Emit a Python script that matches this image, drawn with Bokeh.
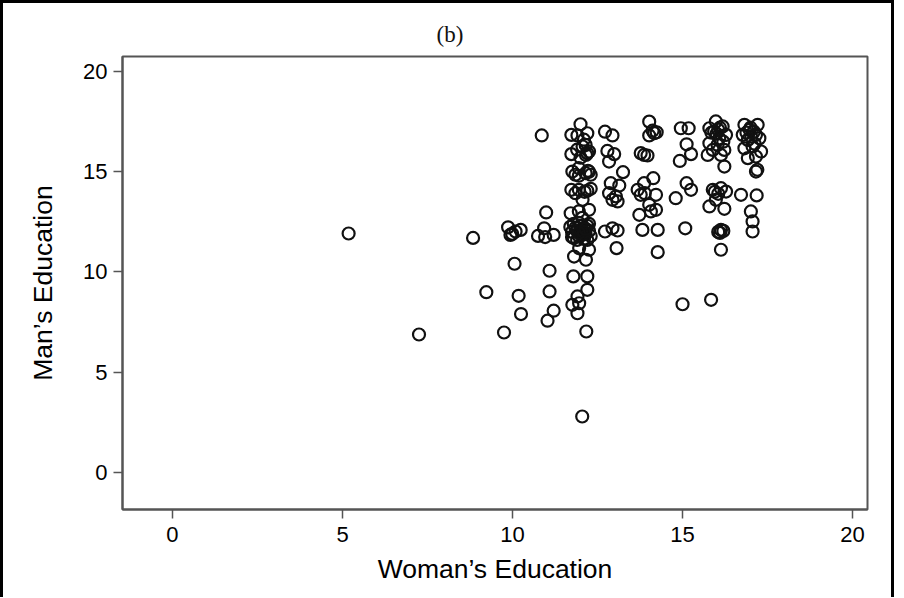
from bokeh.plotting import figure
from bokeh.models import Range1d, FixedTicker
from bokeh.embed import file_html
from bokeh.resources import INLINE

# Woman's education (x) and man's education (y)
woman_edu = [
    # isolated / low-education wives
    5.18, 7.25, 8.84, 9.23, 9.75, 10.06, 10.18, 10.25, 9.87, 9.99, 10.24, 10.09, 9.94,
    10.86, 10.99, 10.93, 10.75, 10.96, 11.21, 11.09, 11.09, 11.21, 11.03,
    # twelve years
    12.0, 11.73, 11.91, 12.2, 12.15, 12.06, 12.25, 12.2, 11.73, 12.16, 12.0,
    11.76, 11.95, 12.15, 11.85, 11.95, 12.25, 12.3,
    11.73, 11.95, 12.2, 11.85, 12.06, 12.3,
    11.71, 11.95, 12.25, 12.05,
    11.75, 11.85, 11.95, 12.05, 12.15, 12.25, 11.8, 12.0, 12.2, 11.9, 12.1, 12.3, 11.7,
    12.0, 11.9, 12.1, 12.05, 11.8, 12.2, 11.95, 12.25, 11.75, 12.1, 11.95, 12.15,
    11.81, 12.16, 12.25, 11.96, 11.79, 12.2, 12.2, 11.91, 11.76, 11.96, 11.91, 12.17, 12.05,
    12.1, 11.9, 12.22, 12.12,
    # thirteen years
    12.72, 12.94, 12.79, 12.99, 12.84, 13.25, 12.89, 13.14, 12.84, 13.04, 12.94, 13.09,
    12.72, 12.94, 13.09, 13.06,
    # fourteen years
    14.02, 14.24, 14.02, 14.17, 13.77, 13.87, 13.97, 14.14, 13.87, 13.68, 13.77, 13.89,
    14.22, 14.02, 14.22, 14.07, 13.73, 13.82, 14.27, 14.27, 14.12,
    # fifteen years
    14.95, 15.18, 15.12, 15.25, 14.92, 15.12, 15.25, 14.8, 15.08, 15.0,
    # sixteen years
    15.98, 15.79, 16.18, 15.93, 16.28, 16.08, 15.79, 16.03, 15.89, 16.23, 15.74, 16.13,
    16.23, 16.1, 16.0, 15.85, 16.2, 16.05,
    15.89, 16.13, 16.28, 15.98, 15.79, 16.23, 15.95, 16.05,
    16.13, 16.05, 16.2, 16.1, 16.13, 15.84,
    # seventeen years
    16.82, 17.21, 16.97, 16.77, 17.16, 16.92, 17.26, 16.82, 17.06, 17.31, 16.92, 17.16,
    17.16, 17.0, 17.1, 17.2, 16.88, 17.12, 17.02,
    16.72, 17.18, 17.01, 17.06, 17.06,
]
man_edu = [
    11.92, 6.88, 11.7, 8.99, 6.98, 10.41, 8.81, 7.9, 12.23, 11.9, 12.1, 12.02, 11.85,
    16.81, 12.97, 12.18, 11.8, 11.74, 11.85, 10.06, 9.03, 8.07, 7.57,
    17.37, 16.84, 16.81, 16.92, 16.34, 16.26, 16.01, 15.93, 15.88, 15.84, 15.7,
    15.01, 15.18, 14.93, 14.85, 14.8, 15.0, 14.85,
    14.1, 14.1, 14.05, 13.93, 13.6, 14.15,
    12.93, 13.02, 13.1, 12.7,
    12.0, 12.2, 11.8, 12.1, 11.9, 12.05, 11.7, 12.3, 12.3, 11.6, 11.65, 11.8, 12.25,
    12.0, 12.05, 12.2, 11.85, 12.4, 11.6, 12.45, 12.4, 11.75, 12.0, 11.95, 12.15,
    10.77, 10.61, 11.11, 11.19, 9.78, 9.78, 9.11, 8.78, 8.36, 8.44, 7.94, 7.03, 2.79,
    16.6, 16.1, 15.05, 14.0,
    17.0, 16.81, 16.04, 15.88, 15.51, 14.98, 14.43, 14.31, 13.93, 13.77, 13.6, 13.52,
    12.02, 12.18, 12.07, 11.19,
    17.5, 16.97, 16.81, 16.92, 15.93, 15.84, 15.81, 14.68, 14.43, 14.1, 13.85, 13.93,
    13.85, 13.35, 13.1, 13.02, 12.85, 12.1, 12.1, 10.99, 17.05,
    17.17, 17.17, 16.37, 15.88, 15.54, 14.43, 14.1, 13.68, 12.18, 8.39,
    17.51, 17.17, 17.26, 17.01, 16.84, 16.67, 16.42, 16.34, 16.09, 16.09, 15.84, 15.84,
    15.26, 17.2, 16.9, 16.95, 16.5, 17.1,
    14.1, 14.18, 14.01, 13.6, 13.27, 13.15, 14.0, 13.9,
    12.1, 12.0, 12.05, 11.95, 11.11, 8.61,
    17.34, 17.34, 17.09, 16.84, 16.84, 16.59, 16.67, 16.17, 16.26, 16.01, 15.68, 15.76,
    15.01, 17.2, 17.0, 15.1, 16.95, 16.4, 16.75,
    13.85, 13.82, 13.02, 12.52, 12.02,
]

x_ticks = [0, 5, 10, 15, 20]
y_ticks = [0, 5, 10, 15, 20]

title_text = "(b)"
x_label = "Woman\u2019s Education"
y_label = "Man\u2019s Education"

FRAME_GRAY = "#555555"

p = figure(
    frame_width=745, frame_height=453,
    x_range=Range1d(-1.47, 20.44), y_range=Range1d(-1.85, 20.75),
    output_backend="svg", toolbar_location=None,
    min_border_left=119, min_border_right=24, min_border_top=53, min_border_bottom=88,
)
p.styles = {"border-left": "3px solid black", "border-top": "3px solid black",
            "border-right": "3px solid black"}

p.title.text = title_text
p.title.text_font = "Liberation Serif"
p.title.text_font_size = "23px"
p.title.text_font_style = "normal"
p.title.text_color = "#111111"
p.title.align = "left"
p.title.offset = 314
p.title.standoff = 20

p.grid.visible = False
p.outline_line_color = FRAME_GRAY
p.outline_line_width = 2
p.background_fill_color = "white"
p.border_fill_color = "white"

for ax in (p.xaxis[0], p.yaxis[0]):
    ax.axis_line_color = FRAME_GRAY
    ax.axis_line_width = 2
    ax.major_tick_line_color = FRAME_GRAY
    ax.major_tick_line_width = 1.5
    ax.major_tick_out = 9
    ax.major_tick_in = 0
    ax.minor_tick_line_color = None
    ax.major_label_text_font = "Liberation Sans"
    ax.major_label_text_font_size = "22px"
    ax.major_label_text_color = "#000000"
    ax.axis_label_text_font = "Liberation Sans"
    ax.axis_label_text_font_size = "26.5px"
    ax.axis_label_text_font_style = "normal"
    ax.axis_label_text_color = "#000000"

p.xaxis.ticker = FixedTicker(ticks=x_ticks)
p.yaxis.ticker = FixedTicker(ticks=y_ticks)
p.xaxis.axis_label = x_label
p.yaxis.axis_label = y_label
p.xaxis.major_label_standoff = 8
p.yaxis.major_label_standoff = 6
p.xaxis.axis_label_standoff = 9
p.yaxis.axis_label_standoff = 22

p.scatter(woman_edu, man_edu, marker="circle", size=12, fill_color=None,
          line_color="#111111", line_width=2.2)

open("out.html", "w").write(file_html(p, INLINE))
